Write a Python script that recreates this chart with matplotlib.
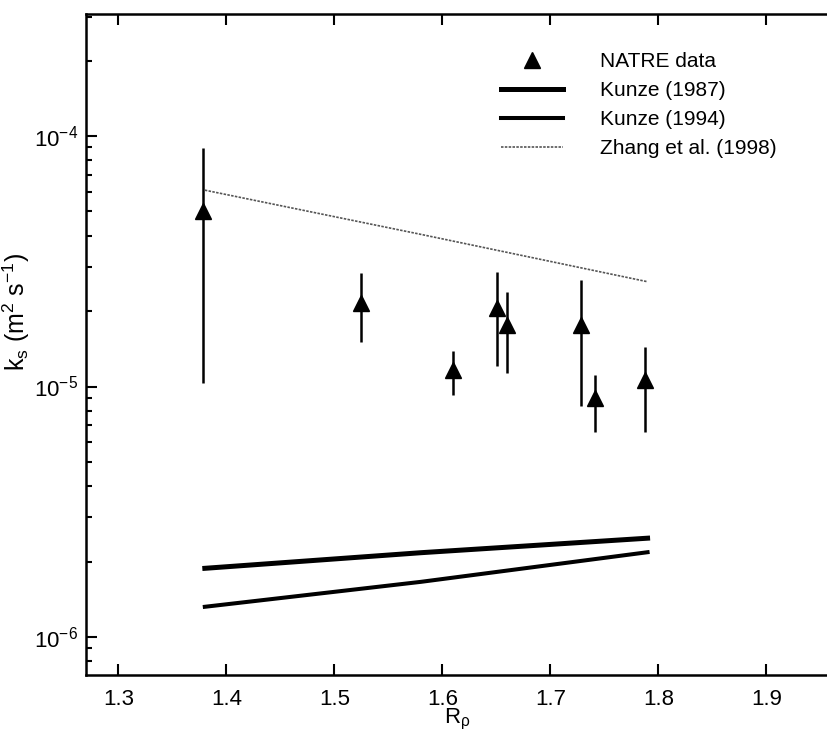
import numpy as np
import matplotlib.pyplot as plt
from matplotlib.ticker import MultipleLocator, LogLocator

plt.rcParams['font.family'] = ['Liberation Sans', 'DejaVu Sans']
plt.rcParams['mathtext.default'] = 'regular'

# NATRE data (R_rho, k_s) with error bar limits
natre_R = [1.378, 1.525, 1.610, 1.651, 1.660, 1.728, 1.741, 1.788]
natre_k = [5.0e-5, 2.16e-5, 1.16e-5, 2.06e-5, 1.76e-5, 1.76e-5, 8.97e-6, 1.06e-5]
natre_hi = [8.95e-5, 2.84e-5, 1.39e-5, 2.87e-5, 2.38e-5, 2.66e-5, 1.11e-5, 1.44e-5]
natre_lo = [1.03e-5, 1.51e-5, 9.25e-6, 1.21e-5, 1.13e-5, 8.38e-6, 6.6e-6, 6.6e-6]

# model curves
model_R = [1.38, 1.58, 1.79]
kunze87 = [1.88e-6, 2.17e-6, 2.48e-6]
kunze94 = [1.32e-6, 1.66e-6, 2.18e-6]
zhang98 = [6.08e-5, 4.05e-5, 2.62e-5]

fig = plt.figure(figsize=(8.28, 7.37), dpi=100)
ax = fig.add_axes([0.1039, 0.0841, 0.896, 0.8969])

k = np.array(natre_k)
yerr = [k - np.array(natre_lo), np.array(natre_hi) - k]
ax.errorbar(natre_R, natre_k, yerr=yerr, fmt='none', ecolor='black',
            elinewidth=1.8, capsize=0)
ax.plot(natre_R, natre_k, '^', color='black', ms=11, label='NATRE data')
ax.plot(model_R, kunze87, color='black', lw=3.6, label='Kunze (1987)')
ax.plot(model_R, kunze94, color='black', lw=2.9, label='Kunze (1994)')
ax.plot(model_R, zhang98, color='#555555', lw=1.2, ls=(0, (1.5, 0.8)),
        label='Zhang et al. (1998)')

ax.set_yscale('log')
ax.set_xlim(1.270, 1.957)
ax.set_ylim(7.05e-7, 3.07e-4)
ax.xaxis.set_major_locator(MultipleLocator(0.1))
ax.yaxis.set_minor_locator(LogLocator(base=10, subs=np.arange(2, 10)))
ax.tick_params(which='both', direction='in', top=True, right=False,
               labelsize=16, width=1.5)
ax.tick_params(which='major', length=8)
ax.tick_params(axis='x', pad=10)
ax.tick_params(axis='y', pad=6)
ax.tick_params(which='minor', length=4)
for s in ['left', 'top', 'bottom']:
    ax.spines[s].set_linewidth(1.8)
ax.spines['right'].set_visible(False)

ax.set_xlabel(r'R$_\rho$', fontsize=16, labelpad=-2)
ax.set_ylabel(r'k$_s$ (m$^2$ s$^{-1}$)', fontsize=18)
ax.yaxis.set_label_coords(-0.073, 0.549)

ax.legend(loc='upper left', bbox_to_anchor=(0.583, 0.955),
          bbox_transform=fig.transFigure, frameon=False, fontsize=15,
          handlelength=2.93, handletextpad=1.78, labelspacing=0.48,
          numpoints=1)

plt.savefig('out.png', dpi=100)
